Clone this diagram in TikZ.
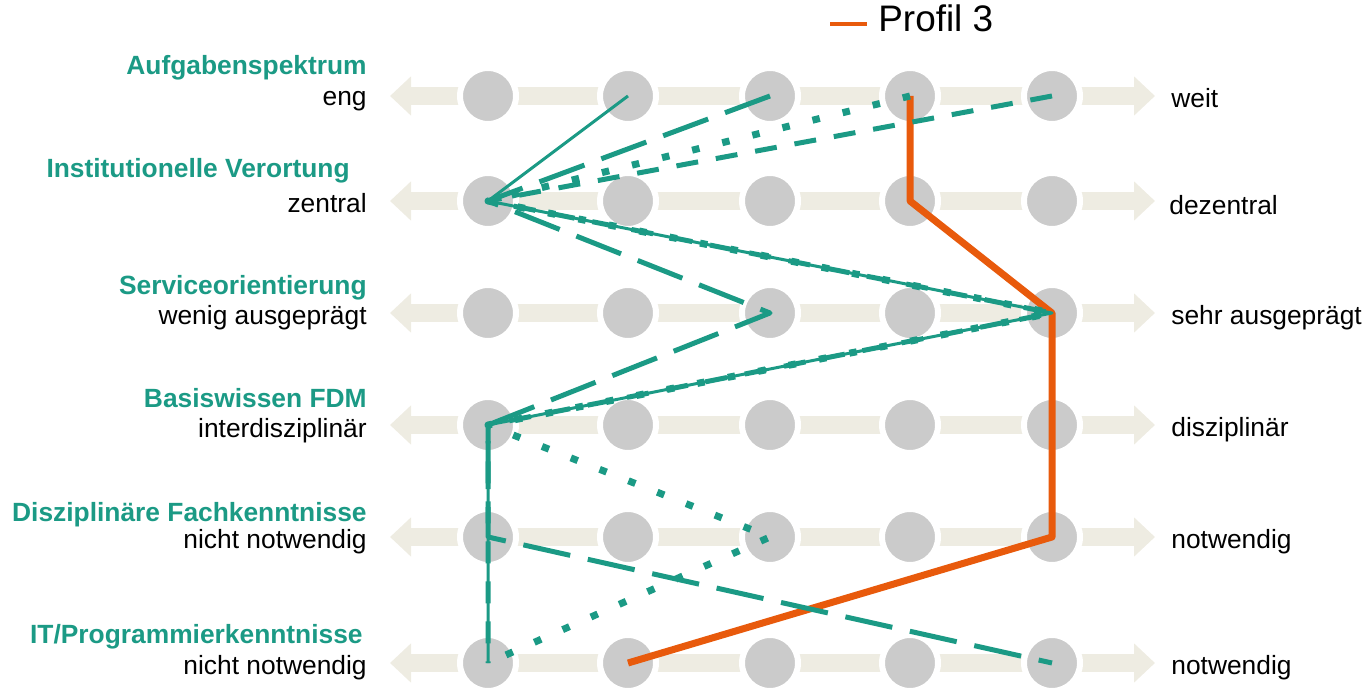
\documentclass[tikz,border=0pt]{standalone}
\usepackage{fontspec}
\setmainfont{Liberation Sans}
\usepackage{xcolor}
\usepackage{tikz}
\usetikzlibrary{arrows.meta}

\definecolor{fdmteal}{HTML}{1B9A85}
\definecolor{fdmorange}{HTML}{E85A0C}
\definecolor{fdmgrau}{HTML}{CBCBCB}
\definecolor{fdmbeige}{HTML}{EEECE2}

\tikzset{
    skala/.style={line width=0.36cm, draw=fdmbeige,
        {Triangle[length=0.42cm,width=0.76cm]}-{Triangle[length=0.42cm,width=0.76cm]}},
    stufe/.style={circle, fill=fdmgrau, draw=white, line width=0.12cm,
        minimum size=1.12cm, inner sep=0pt},
    titel/.style={anchor=base east, inner sep=0pt, text=fdmteal,
        font=\fontsize{15}{18}\selectfont\bfseries},
    wertlinks/.style={anchor=base east, inner sep=0pt,
        font=\fontsize{15}{18}\selectfont},
    wertrechts/.style={anchor=base west, inner sep=0pt,
        font=\fontsize{15}{18}\selectfont},
    profil/.style={draw=fdmteal, line join=round},
    profduenn/.style={profil, line width=0.06cm},
    proflang/.style={profil, line width=0.1cm, dash pattern=on 0.96cm off 0.36cm},
    profmittel/.style={profil, line width=0.1cm, dash pattern=on 0.44cm off 0.36cm},
    profpunkt/.style={profil, line width=0.14cm, dash pattern=on 0.15cm off 0.47cm},
    profdrei/.style={draw=fdmorange, line width=0.14cm, line join=round}
}

\begin{document}
\begin{tikzpicture}
        \useasboundingbox (0,0) rectangle (27.4,13.74);

        % The scale arrows
        \draw[skala] (7.8,11.82) -- (23.1,11.82);
        \draw[skala] (7.8,9.72) -- (23.1,9.72);
        \draw[skala] (7.8,7.48) -- (23.1,7.48);
        \draw[skala] (7.8,5.24) -- (23.1,5.24);
        \draw[skala] (7.8,3.0) -- (23.1,3.0);
        \draw[skala] (7.8,0.48) -- (23.1,0.48);

        % The circles
        \node[stufe] (aufg1) at (9.76,11.82) {};
        \node[stufe] (aufg2) at (12.56,11.82) {};
        \node[stufe] (aufg3) at (15.4,11.82) {};
        \node[stufe] (aufg4) at (18.2,11.82) {};
        \node[stufe] (aufg5) at (21.04,11.82) {};

        \node[stufe] (inst1) at (9.76,9.72) {};
        \node[stufe] (inst2) at (12.56,9.72) {};
        \node[stufe] (inst3) at (15.4,9.72) {};
        \node[stufe] (inst4) at (18.2,9.72) {};
        \node[stufe] (inst5) at (21.04,9.72) {};

        \node[stufe] (serv1) at (9.76,7.48) {};
        \node[stufe] (serv2) at (12.56,7.48) {};
        \node[stufe] (serv3) at (15.4,7.48) {};
        \node[stufe] (serv4) at (18.2,7.48) {};
        \node[stufe] (serv5) at (21.04,7.48) {};

        \node[stufe] (basis1) at (9.76,5.24) {};
        \node[stufe] (basis2) at (12.56,5.24) {};
        \node[stufe] (basis3) at (15.4,5.24) {};
        \node[stufe] (basis4) at (18.2,5.24) {};
        \node[stufe] (basis5) at (21.04,5.24) {};

        \node[stufe] (fach1) at (9.76,3.0) {};
        \node[stufe] (fach2) at (12.56,3.0) {};
        \node[stufe] (fach3) at (15.4,3.0) {};
        \node[stufe] (fach4) at (18.2,3.0) {};
        \node[stufe] (fach5) at (21.04,3.0) {};

        \node[stufe] (it1) at (9.76,0.48) {};
        \node[stufe] (it2) at (12.56,0.48) {};
        \node[stufe] (it3) at (15.4,0.48) {};
        \node[stufe] (it4) at (18.2,0.48) {};
        \node[stufe] (it5) at (21.04,0.48) {};

        % The words on the left
        \node[titel] (taufg) at (7.34,12.24) {Aufgabenspektrum};
        \node[wertlinks] (laufg) at (7.34,11.62) {eng};
        \node[titel] (tinst) at (7.0,10.18) {Institutionelle Verortung};
        \node[wertlinks] (linst) at (7.34,9.48) {zentral};
        \node[titel] (tserv) at (7.34,7.84) {Serviceorientierung};
        \node[wertlinks] (lserv) at (7.34,7.24) {wenig ausgeprägt};
        \node[titel] (tbasis) at (7.34,5.58) {Basiswissen FDM};
        \node[wertlinks] (lbasis) at (7.34,4.98) {interdisziplinär};
        \node[titel] (tfach) at (7.34,3.3) {Disziplinäre Fachkenntnisse};
        \node[wertlinks] (lfach) at (7.34,2.78) {nicht notwendig};
        \node[titel] (tit) at (7.26,0.88) {IT/Programmierkenntnisse};
        \node[wertlinks] (lit) at (7.34,0.26) {nicht notwendig};

        % The words on the right
        \node[wertrechts] (raufg) at (23.42,11.58) {weit};
        \node[wertrechts] (rinst) at (23.38,9.44) {dezentral};
        \node[wertrechts] (rserv) at (23.42,7.24) {sehr ausgeprägt};
        \node[wertrechts] (rbasis) at (23.42,5.0) {disziplinär};
        \node[wertrechts] (rfach) at (23.42,2.78) {notwendig};
        \node[wertrechts] (rit) at (23.42,0.26) {notwendig};

        % Profil 3
        \draw[profdrei] (aufg4.center) -- (inst4.center) -- (serv5.center)
            -- (basis5.center) -- (fach5.center) -- (it2.center);

        % The other profiles
        \draw[profduenn] (aufg2.center) -- (inst1.center) -- (serv5.center)
            -- (basis1.center) -- (fach1.center) -- (it1.center);
        \draw[proflang] (aufg3.center) -- (inst1.center) -- (serv3.center)
            -- (basis1.center) -- (fach1.center) -- (it5.center);
        \draw[profmittel] (aufg5.center) -- (inst1.center) -- (serv5.center)
            -- (basis1.center) -- (fach1.center) -- (it1.center);
        \draw[profpunkt] (aufg4.center) -- (inst1.center) -- (serv5.center)
            -- (basis1.center) -- (fach3.center) -- (it1.center);

        % The legend
        \coordinate (lega) at (16.6,13.26);
        \coordinate (legb) at (17.34,13.26);
        \draw[draw=fdmorange, line width=0.08cm] (lega) -- (legb);
        \node[anchor=base west, inner sep=0pt, font=\fontsize{21}{25}\selectfont]
            (legtext) at (17.56,13.1) {Profil 3};

\end{tikzpicture}
\end{document}
